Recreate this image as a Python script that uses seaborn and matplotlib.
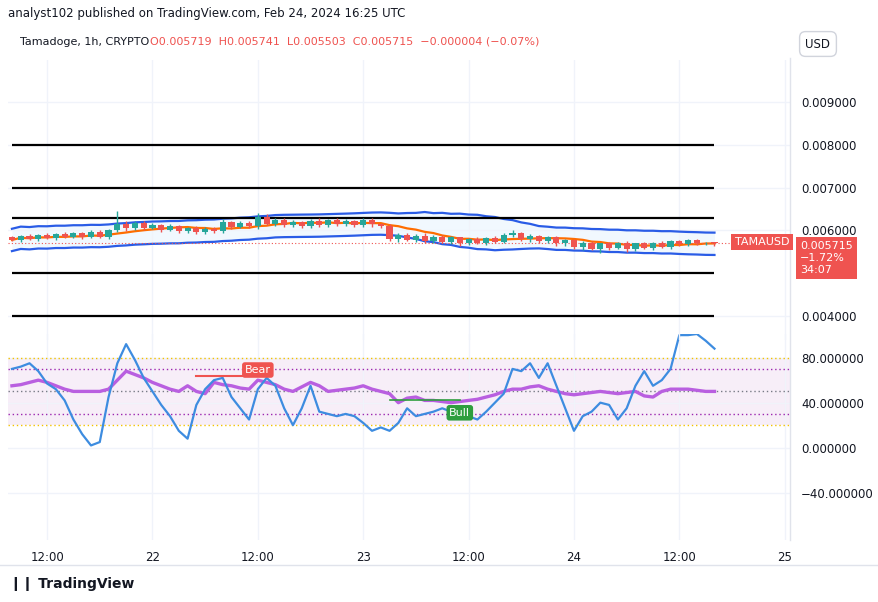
import numpy as np
import pandas as pd
import matplotlib
matplotlib.use("Agg")
import matplotlib.pyplot as plt
import seaborn as sns

# ---------------- data ----------------
closes = [0.00578,0.00588,0.00580,0.00590,0.00583,0.00592,0.00585,0.00594,0.00586,
          0.00596,0.00585,0.00600,0.00615,0.00605,0.00618,0.00606,
          0.00612,0.00602,0.00610,0.00598,0.00606,0.00596,0.00604,0.00598,
          0.00620,0.00608,0.00618,0.00610,0.00632,0.00615,0.00625,0.00612,
          0.00620,0.00610,0.00622,0.00612,0.00624,0.00614,0.00622,0.00612,
          0.00624,0.00614,0.00610,0.00580,0.00590,0.00578,0.00588,0.00576,
          0.00586,0.00574,0.00584,0.00570,0.00580,0.00572,0.00582,0.00574,
          0.00590,0.00594,0.00580,0.00588,0.00576,0.00584,0.00570,0.00578,
          0.00562,0.00572,0.00558,0.00570,0.00560,0.00572,0.00556,0.00570,
          0.00560,0.00572,0.00562,0.00575,0.00568,0.00578,0.00570,0.005719,0.005715]
first_open = 0.00584
up_wick = [3,2,4,2,3,2,5,3,2,4,6,3,30,8,4,3,5,3,4,2,3,4,3,5,
           6,3,4,5,9,6,4,3,5,3,4,6,3,5,4,3,6,4,3,5,3,4,3,5,
           3,4,3,2,3,4,3,5,4,6,3,3,2,4,3,2,3,4,3,2,3,2,3,2,
           3,2,3,2,4,3,2,2,2]
down_wick = [3,4,2,5,3,4,2,3,6,4,3,5,4,6,3,4,3,5,3,4,3,5,4,3,
             4,5,3,4,6,3,5,4,3,5,4,3,5,4,3,5,4,6,5,4,6,3,5,4,
             6,4,5,6,4,3,5,4,3,5,4,6,5,4,6,5,6,8,4,10,5,4,6,3,
             4,6,3,4,3,4,3,4,7]
stoch_k = [70,72,75,68,57,52,42,25,12,2,5,45,75,92,78,62,50,38,28,15,8,38,52,60,
           62,45,35,25,52,62,55,35,20,35,55,32,30,28,30,28,22,15,18,15,22,35,28,30,
           32,35,32,30,28,25,32,40,48,70,68,75,62,75,55,35,15,28,32,40,38,25,35,55,
           68,55,60,70,100,100,101,95,88]
stoch_d = [55,56,58,60,58,55,52,50,50,50,50,52,60,68,65,62,58,55,52,50,55,50,48,58,
           56,55,53,52,60,58,56,52,50,54,58,55,50,51,52,53,55,52,50,48,40,44,45,42,
           42,41,40,41,42,43,45,47,50,52,52,54,55,52,50,48,47,48,49,50,49,48,49,50,
           46,45,50,52,52,52,51,50,50]
hlines = [0.008, 0.007, 0.00628, 0.005, 0.004]
price_ticks = [0.004, 0.006, 0.007, 0.008, 0.009]
price_labels = ["0.004000", "0.006000", "0.007000", "0.008000", "0.009000"]
osc_ticks = [-40, 0, 40, 80]
osc_labels = ["\u221240.000000", "0.000000", "40.000000", "80.000000"]
time_ticks = [4, 16, 28, 40, 52, 64, 76, 88]
time_labels = ["12:00", "22", "12:00", "23", "12:00", "24", "12:00", "25"]

# ---------------- frame ----------------
n = len(closes)
idx = np.arange(n)
opens = [first_open] + closes[:-1]
df = pd.DataFrame({"i": idx, "open": opens, "close": closes})
df["high"] = df[["open", "close"]].max(axis=1) + np.array(up_wick) * 1e-5
df["low"] = df[["open", "close"]].min(axis=1) - np.array(down_wick) * 1e-5
roll = df["close"].rolling(20, min_periods=1)
df["mid"] = roll.mean()
df["std"] = roll.std().fillna(0).clip(lower=0.00013)
df["upper"] = df["mid"] + 2 * df["std"]
df["lower"] = df["mid"] - 2 * df["std"]
df["ma"] = df["close"].rolling(9, min_periods=1).mean()
osc = pd.DataFrame({"i": idx, "k": stoch_k, "d": stoch_d})

W, H = 879, 602
fig = plt.figure(figsize=(W / 100, H / 100), dpi=100)
fig.patch.set_facecolor("white")
L, R = 8 / W, 790 / W
ax = fig.add_axes([L, 1 - 340 / H, R - L, (340 - 60) / H])
ax2 = fig.add_axes([L, 1 - 540 / H, R - L, (540 - 334) / H], sharex=ax)

green, red = "#26a69a", "#ef5350"

# main panel
ax.fill_between(df["i"], df["lower"], df["upper"], color="#2196f3", alpha=0.06, lw=0)
sns.lineplot(data=df, x="i", y="upper", ax=ax, color="#2a5ce6", lw=1.6)
sns.lineplot(data=df, x="i", y="lower", ax=ax, color="#2a5ce6", lw=1.6)
sns.lineplot(data=df, x="i", y="ma", ax=ax, color="#ff6d00", lw=1.6)
for _, r in df.iterrows():
    c = green if r["close"] >= r["open"] else red
    ax.vlines(r["i"], r["low"], r["high"], color=c, lw=1, zorder=3)
    b0 = min(r["open"], r["close"])
    h = max(abs(r["close"] - r["open"]), 0.000008)
    ax.bar(r["i"], h, bottom=b0, width=0.7, color=c, zorder=4)
for y in hlines:
    ax.hlines(y, 0, 80, color="black", lw=1.6, zorder=2)
ax.axhline(closes[-1], color=red, lw=0.8, ls=(0, (1, 2)))
ax.set_ylim(0.00345, 0.00997)
ax.set_xlim(-0.45, 88.6)

# oscillator
ax2.axhspan(20, 80, color="#9c27b0", alpha=0.08, lw=0)
ax2.axhline(80, color="#f2c200", ls=(0, (1, 2)), lw=1)
ax2.axhline(20, color="#f2c200", ls=(0, (1, 2)), lw=1)
ax2.axhline(70, color="#9c27b0", ls=(0, (1, 2)), lw=1)
ax2.axhline(30, color="#9c27b0", ls=(0, (1, 2)), lw=1)
ax2.axhline(50, color="#787b86", ls=(0, (1, 2)), lw=1)
sns.lineplot(data=osc, x="i", y="d", ax=ax2, color="#b95fe0", lw=2.4)
sns.lineplot(data=osc, x="i", y="k", ax=ax2, color="#3d8ce0", lw=1.6)
ax2.plot([21, 27], [64, 64], color=red, lw=1.5)
ax2.text(28, 69, "Bear", color="white", fontsize=8, ha="center", va="center",
         bbox=dict(boxstyle="round,pad=0.25", fc=red, ec="none"))
ax2.plot([43, 51], [42, 42], color="#2e9e3e", lw=1.2)
ax2.text(51, 31, "Bull", color="white", fontsize=8, ha="center", va="center",
         bbox=dict(boxstyle="round,pad=0.25", fc="#2e9e3e", ec="none"))
ax2.set_ylim(-82, 101)

for a in (ax, ax2):
    a.set_facecolor("white")
    a.grid(True, color="#f0f3fa", lw=1)
    a.set_xlabel("")
    a.set_ylabel("")
    a.yaxis.tick_right()
    a.tick_params(length=0, labelsize=8.5, colors="#131722", pad=8)
    for s in a.spines.values():
        s.set_visible(False)
ax.set_yticks(price_ticks)
ax.set_yticklabels(price_labels)
ax2.set_yticks(osc_ticks)
ax2.set_yticklabels(osc_labels)
ax.tick_params(labelbottom=False)
ax2.set_xticks(time_ticks)
ax2.set_xticklabels(time_labels)
ax2.set_zorder(0)
ax.set_zorder(1)
ax.patch.set_alpha(0)

# separators
fig.add_artist(plt.Line2D([R, R], [1 - 540 / H, 1 - 58 / H], color="#e0e3eb", lw=1))
fig.add_artist(plt.Line2D([0, 1], [1 - 565 / H, 1 - 565 / H], color="#e0e3eb", lw=1))

# header / labels
fig.text(8 / W, 1 - 14 / H, "analyst102 published on TradingView.com, Feb 24, 2024 16:25 UTC",
         fontsize=8.5, color="#131722", va="center")
fig.text(20 / W, 1 - 42 / H, "Tamadoge, 1h, CRYPTO", fontsize=8, color="#131722", va="center")
fig.text(150 / W, 1 - 42 / H, "O0.005719  H0.005741  L0.005503  C0.005715  \u22120.000004 (\u22120.07%)",
         fontsize=8, color=red, va="center")
fig.text(818 / W, 1 - 44 / H, "USD", fontsize=8.5, color="#131722", va="center", ha="center",
         bbox=dict(boxstyle="round,pad=0.5", fc="white", ec="#d1d4dc"))
fig.text(762 / W, 1 - 242 / H, "TAMAUSD", fontsize=8, color="white", va="center", ha="center",
         bbox=dict(boxstyle="square,pad=0.3", fc=red, ec="none"))
fig.text(800 / W, 1 - 258 / H, "0.005715\n\u22121.72%\n34:07", fontsize=8, color="white",
         va="center", ha="left", linespacing=1.3,
         bbox=dict(boxstyle="square,pad=0.35", fc=red, ec="none"))
fig.text(10 / W, 1 - 584 / H, "\u2759\u2759 TradingView", fontsize=10, color="#131722",
         va="center", fontweight="bold")

fig.savefig("out.png", dpi=100, facecolor="white")
